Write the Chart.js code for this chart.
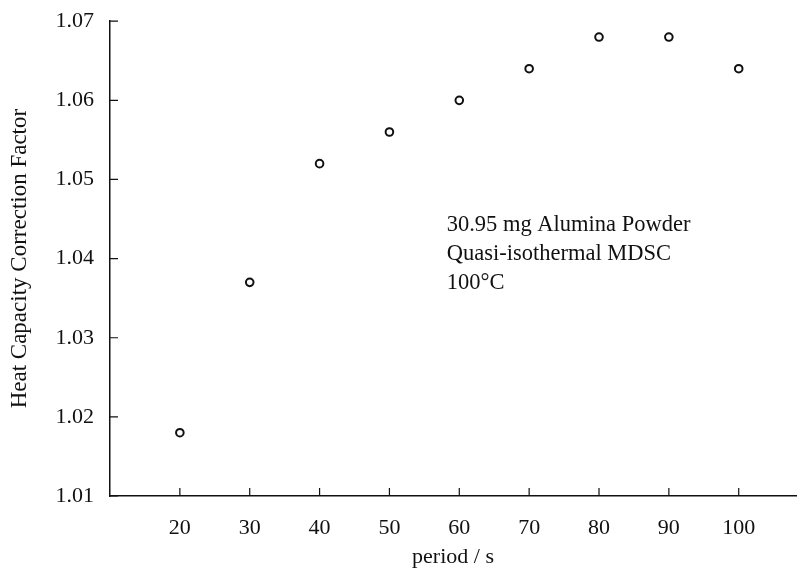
<!DOCTYPE html>
<html>
<head>
<meta charset="utf-8">
<script src="https://cdn.jsdelivr.net/npm/chart.js@4/dist/chart.umd.min.js"></script>
<style>
  html, body { margin: 0; padding: 0; background: #fff; }
</style>
</head>
<body>
<canvas id="chCapacity" width="802" height="575"></canvas>
<script>
    // data
    var periods = [20, 30, 40, 50, 60, 70, 80, 90, 100];
    var factors = [1.018, 1.037, 1.052, 1.056, 1.060, 1.064, 1.068, 1.068, 1.064];
    var xTicks = [20, 30, 40, 50, 60, 70, 80, 90, 100];
    var yTicks = [1.01, 1.02, 1.03, 1.04, 1.05, 1.06, 1.07];
    var noteLines = ['30.95 mg Alumina Powder', 'Quasi-isothermal MDSC', '100\u00B0C'];

    var serif = '"Liberation Serif", "Times New Roman", serif';

    // small tick marks pointing into the plot + the text block
    var plotExtras = {
        id: 'plotExtras',
        afterDraw: function(chart) {
            var ctx = chart.ctx;
            var x = chart.scales.x, y = chart.scales.y;
            var area = chart.chartArea;
            ctx.save();
            ctx.strokeStyle = '#111';
            ctx.lineWidth = 1.2;
            ctx.beginPath();
            xTicks.forEach(function(v) {
                var px = x.getPixelForValue(v);
                ctx.moveTo(px, area.bottom);
                ctx.lineTo(px, area.bottom - 8);
            });
            yTicks.forEach(function(v) {
                var py = y.getPixelForValue(v);
                ctx.moveTo(area.left, py);
                ctx.lineTo(area.left + 8, py);
            });
            ctx.stroke();

            ctx.fillStyle = '#111';
            ctx.font = '22.5px ' + serif;
            ctx.textBaseline = 'alphabetic';
            var tx = x.getPixelForValue(58.2);
            var ty = y.getPixelForValue(1.0435);
            noteLines.forEach(function(line, i) {
                ctx.fillText(line, tx, ty + i * 29);
            });
            ctx.restore();
        }
    };

    new Chart(document.getElementById('chCapacity'), {
        type: 'scatter',
        data: {
            datasets: [{
                data: periods.map(function(p, i) { return { x: p, y: factors[i] }; }),
                pointStyle: 'circle',
                pointRadius: 3.8,
                pointBorderWidth: 2,
                pointBorderColor: '#111',
                pointBackgroundColor: '#fff'
            }]
        },
        options: {
            responsive: false,
            animation: false,
            devicePixelRatio: 1,
            layout: { padding: { top: 16, right: 0, left: 0, bottom: 0 } },
            plugins: { legend: { display: false }, tooltip: { enabled: false } },
            scales: {
                x: {
                    type: 'linear',
                    min: 10,
                    max: 108.2,
                    afterBuildTicks: function(axis) {
                        axis.ticks = xTicks.map(function(v) { return { value: v }; });
                    },
                    grid: { display: false },
                    border: { display: true, color: '#111', width: 1.5 },
                    ticks: {
                        color: '#111',
                        padding: 11,
                        font: { family: serif, size: 22 }
                    },
                    title: {
                        display: true,
                        text: 'period / s',
                        color: '#111',
                        padding: { top: 4, bottom: 5 },
                        font: { family: serif, size: 22 }
                    },
                    afterFit: function(axis) { axis.height = 79; }
                },
                y: {
                    min: 1.01,
                    max: 1.07,
                    afterBuildTicks: function(axis) {
                        axis.ticks = yTicks.map(function(v) { return { value: v }; });
                    },
                    grid: { display: false },
                    border: { display: true, color: '#111', width: 1.5 },
                    ticks: {
                        color: '#111',
                        padding: 8,
                        font: { family: serif, size: 22 },
                        callback: function(v) { return v.toFixed(2); }
                    },
                    title: {
                        display: true,
                        text: 'Heat Capacity Correction Factor',
                        color: '#111',
                        padding: { top: 6, bottom: 4 },
                        font: { family: serif, size: 23 }
                    },
                    afterFit: function(axis) { axis.width = 110; }
                }
            }
        },
        plugins: [plotExtras]
    });
</script>
</body>
</html>
